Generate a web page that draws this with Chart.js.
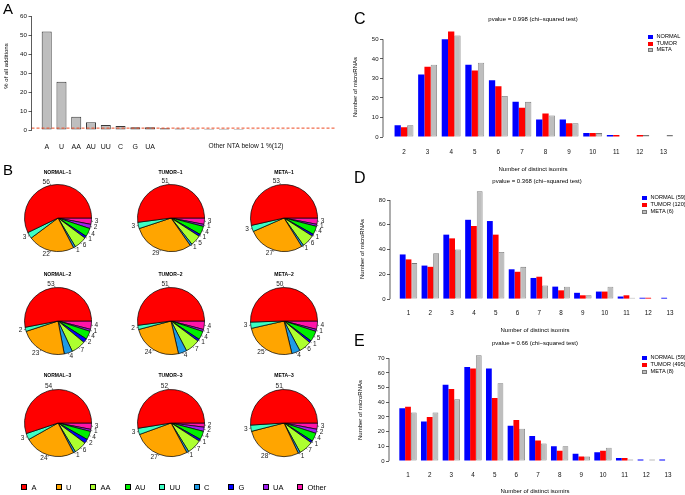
<!DOCTYPE html>
<html><head><meta charset="utf-8">
<script src="https://cdn.jsdelivr.net/npm/chart.js@4.4.1/dist/chart.umd.min.js"></script>
<style>
html,body{margin:0;padding:0;background:#fff;}
#wrap{position:relative;width:685px;height:495px;overflow:hidden;font-family:'Liberation Sans',Arial,Helvetica,sans-serif;color:#000;background:#fff;}
canvas{position:absolute;}
.t{position:absolute;white-space:nowrap;line-height:1;}
.box{position:absolute;border:0.8px solid #000;box-sizing:border-box;}
</style></head><body><div id="wrap"></div>
<script>
// ================= DATA =================
// Panel A
const ntaLabels = ['A','U','AA','AU','UU','C','G','UA'];
const ntaValues = [52.2, 25.6, 7.0, 4.1, 2.6, 2.1, 1.4, 1.5];
const otherLabel = 'Other NTA below 1 %(12)';
const otherValues = [0.9, 0.8, 0.7, 0.65, 0.6, 0.5, 0.45, 0.4, 0.35, 0.3, 0.3, 0.25];
const aTicks = [0, 10, 20, 30, 40, 50, 60];
const cutoff = 1;

// Panel B (pie values, order: A, U, AA, AU, UU, C, G, UA, Other)
const pieCats = ['A','U','AA','AU','UU','C','G','UA','Other'];
const pieColors = ['#FF0000','#FFA500','#ADFF2F','#00F000','#3CFFC4','#1E9BE6','#0000FF','#A020F0','#FF14AA'];
const pieTitles = ['NORMAL~1','TUMOR~1','META~1','NORMAL~2','TUMOR~2','META~2','NORMAL~3','TUMOR~3','META~3'];
const pieNormal1 = [56, 22, 6, 4, 3, 1, 1, 2, 3];
const pieTumor1  = [51, 29, 5, 4, 3, 1, 1, 1, 3];
const pieMeta1   = [53, 27, 6, 4, 3, 1, 1, 1, 3];
const pieNormal2 = [53, 23, 7, 4, 2, 4, 2, 1, 4];
const pieTumor2  = [51, 24, 7, 4, 2, 4, 1, 1, 4];
const pieMeta2   = [50, 25, 6, 5, 3, 4, 1, 1, 4];
const pieNormal3 = [54, 24, 6, 4, 3, 1, 2, 1, 3];
const pieTumor3  = [52, 27, 7, 4, 3, 1, 1, 2, 2];
const pieMeta3   = [51, 28, 7, 4, 3, 1, 1, 2, 3];
// drawing order of slices (R: counter-clockwise from 3 o'clock)
const pieOrder = ['A','UU','U','C','AA','G','AU','UA','Other'];

// Panel C
const isoC = [2,3,4,5,6,7,8,9,10,11,12,13];
const cNormal = [6, 32, 50, 37, 29, 18, 9, 9, 2, 1, 0, 0];
const cTumor  = [5, 36, 54, 34, 26, 15, 12, 7, 2, 1, 1, 0];
const cMeta   = [6, 37, 52, 38, 21, 18, 11, 7, 2, 0, 1, 1];
const cTicks = [0, 10, 20, 30, 40, 50];
const cLegend = ['NORMAL','TUMOR','META'];
const cTitle = 'pvalue = 0.998 (chi\u2212squared test)';

// Panel D
const isoD = [1,2,3,4,5,6,7,8,9,10,11,12,13];
const dNormal = [36, 27, 52, 64, 63, 24, 17, 10, 5, 6, 2, 1, 1];
const dTumor  = [32, 26, 49, 59, 52, 22, 18, 7, 3, 6, 3, 1, 0];
const dMeta   = [29, 37, 40, 87, 38, 26, 11, 10, 3, 10, 1, 0, 0];
const dTicks = [0, 20, 40, 60, 80];
const dLegend = ['NORMAL (59)','TUMOR (120)','META (6)'];
const dTitle = 'pvalue = 0.368 (chi\u2212squared test)';

// Panel E
const isoE = [1,2,3,4,5,6,7,8,9,10,11,12,13];
const eNormal = [36, 27, 52, 64, 63, 24, 17, 10, 5, 6, 2, 1, 1];
const eTumor  = [37, 30, 49, 63, 43, 28, 14, 7, 3, 7, 2, 0, 0];
const eMeta   = [33, 33, 42, 72, 53, 22, 12, 10, 3, 9, 1, 1, 0];
const eTicks = [0, 10, 20, 30, 40, 50, 60, 70];
const eLegend = ['NORMAL (59)','TUMOR (495)','META (8)'];
const eTitle = 'pvalue = 0.66 (chi\u2212squared test)';

const xTitle = 'Number of distinct isomirs';
const yTitle = 'Number of microRNAs';
const groupColors = ['#0000FF','#FF0000','#BEBEBE'];

// ================= HELPERS =================
const wrap = document.getElementById('wrap');
const FONT = "'Liberation Sans', Arial, Helvetica, sans-serif";

function txt(s, x, y, o = {}) {
  const d = document.createElement('div');
  d.className = 't';
  d.textContent = s;
  d.style.fontSize = (o.size || 6) + 'px';
  if (o.bold) d.style.fontWeight = 'bold';
  if (o.color) d.style.color = o.color;
  d.style.left = x + 'px';
  d.style.top = y + 'px';
  const ax = o.align === 'left' ? '0' : o.align === 'right' ? '-100%' : '-50%';
  d.style.transform = 'translate(' + ax + ',-50%)' + (o.rot ? ' rotate(' + o.rot + 'deg)' : '');
  wrap.appendChild(d);
}
function box(x, y, w, h, color) {
  const b = document.createElement('div');
  b.className = 'box';
  b.style.left = x + 'px'; b.style.top = y + 'px';
  b.style.width = w + 'px'; b.style.height = h + 'px';
  b.style.background = color;
  wrap.appendChild(b);
}
function makeCanvas(left, top, w, h) {
  const c = document.createElement('canvas');
  c.width = w; c.height = h;
  c.style.left = left + 'px'; c.style.top = top + 'px';
  c.style.width = w + 'px'; c.style.height = h + 'px';
  wrap.appendChild(c);
  return c;
}

// R-style y axis line from first to last tick
const rAxis = {
  id: 'rAxis',
  afterDraw(chart) {
    const s = chart.scales.y;
    const t = s.ticks;
    const ctx = chart.ctx;
    ctx.save();
    ctx.strokeStyle = '#333';
    ctx.lineWidth = 0.8;
    ctx.beginPath();
    ctx.moveTo(s.right, s.getPixelForValue(t[0].value));
    ctx.lineTo(s.right, s.getPixelForValue(t[t.length - 1].value));
    ctx.stroke();
    ctx.restore();
  }
};

function barChart(cfg) {
  const c = makeCanvas(cfg.left, cfg.top, cfg.w, cfg.h);
  return new Chart(c, {
    type: 'bar',
    data: { datasets: cfg.datasets },
    options: {
      responsive: false, animation: false, devicePixelRatio: 1, events: [],
      layout: { padding: cfg.pad },
      plugins: { legend: { display: false }, tooltip: { enabled: false }, title: { display: false } },
      datasets: { bar: { categoryPercentage: cfg.catPct, barPercentage: cfg.barPct, grouped: true } },
      scales: {
        x: {
          type: 'linear', offset: false, min: cfg.xmin, max: cfg.xmax,
          grid: { display: false, drawTicks: false }, border: { display: false },
          afterBuildTicks: s => { s.ticks = cfg.xTicks.map(v => ({ value: v })); },
          afterFit: s => { s.height = cfg.xH; },
          ticks: { autoSkip: false, maxRotation: 0, padding: cfg.xPad, color: '#111',
                   font: { family: FONT, size: cfg.xFont }, callback: cfg.xLabel }
        },
        y: {
          min: 0, max: cfg.ymax,
          afterBuildTicks: s => { s.ticks = cfg.yTicks.map(v => ({ value: v })); },
          afterFit: s => { s.width = cfg.yW; },
          grid: { drawOnChartArea: false, drawTicks: true, tickLength: 3, color: '#333', lineWidth: 0.8 },
          border: { display: false },
          ticks: { padding: 1.5, color: '#111', font: { family: FONT, size: cfg.yFont } }
        }
      }
    },
    plugins: [rAxis].concat(cfg.plugins || [])
  });
}

// ================= PANEL A =================
const aAll = ntaValues.concat(otherValues);
const aXTicks = aAll.map((_, i) => i + 1);
const cutoffLine = {
  id: 'cutoffLine',
  afterDatasetsDraw(chart) {
    const ctx = chart.ctx, y = chart.scales.y.getPixelForValue(cutoff), a = chart.chartArea;
    ctx.save();
    ctx.strokeStyle = '#EE4A22';
    ctx.lineWidth = 1;
    ctx.setLineDash([3, 2]);
    ctx.beginPath(); ctx.moveTo(a.left, y); ctx.lineTo(a.right, y); ctx.stroke();
    ctx.restore();
  },
  afterDraw(chart) {
    const ctx = chart.ctx, xs = chart.scales.x;
    const mid = (ntaValues.length + 1 + aAll.length) / 2;
    ctx.save();
    ctx.font = '6.6px ' + FONT;
    ctx.fillStyle = '#111';
    ctx.textAlign = 'center';
    ctx.textBaseline = 'middle';
    ctx.fillText(otherLabel, xs.getPixelForValue(mid), 146);
    ctx.restore();
  }
};
barChart({
  left: 0, top: 0, w: 340, h: 155,
  pad: { left: 0, top: 16.7, right: 4.6, bottom: 0 },
  yW: 31.5, xH: 25, xmin: -0.03, xmax: 20.55, ymax: 60,
  xTicks: aXTicks, yTicks: aTicks, xPad: 12.5, xFont: 7, yFont: 6.2,
  catPct: 1, barPct: 0.68,
  xLabel: v => (v <= ntaLabels.length ? ntaLabels[v - 1] : ''),
  datasets: [{
    data: aAll.map((v, i) => ({ x: i + 1, y: v })),
    backgroundColor: aAll.map((v, i) => (i < ntaValues.length ? '#BEBEBE' : '#1a1a1a')),
    borderColor: '#3a3a3a', borderWidth: 1, borderSkipped: false
  }],
  plugins: [cutoffLine]
});
txt('A', 3, 8, { size: 15, align: 'left' });
txt('% of all additions', 6, 66, { size: 6, rot: -90 });

// ================= PANEL B =================
const pieData = [pieNormal1, pieTumor1, pieMeta1, pieNormal2, pieTumor2, pieMeta2, pieNormal3, pieTumor3, pieMeta3];
const pieCX = [57.5, 170.5, 284];
const pieCY = [218, 320.5, 423];
const pieTitleY = [172, 274, 375];
const pieR = 33.5;
// clockwise from 3 o'clock in reverse order == R counter-clockwise order
const drawIdx = pieOrder.slice().reverse().map(n => pieCats.indexOf(n));

const pieLabels = {
  id: 'pieLabels',
  afterDatasetsDraw(chart) {
    const meta = chart.getDatasetMeta(0);
    const ds = chart.data.datasets[0];
    const ctx = chart.ctx;
    ctx.save();
    ctx.font = '6.5px ' + FONT;
    ctx.fillStyle = '#222';
    ctx.strokeStyle = '#333';
    ctx.lineWidth = 0.6;
    ctx.textBaseline = 'middle';
    meta.data.forEach((arc, i) => {
      const p = arc.getProps(['x', 'y', 'startAngle', 'endAngle', 'outerRadius'], true);
      const a = (p.startAngle + p.endAngle) / 2;
      const r = p.outerRadius;
      const cx = Math.cos(a), cy = Math.sin(a);
      ctx.beginPath();
      ctx.moveTo(p.x + cx * r, p.y + cy * r);
      ctx.lineTo(p.x + cx * r * 1.05, p.y + cy * r * 1.05);
      ctx.stroke();
      ctx.textAlign = cx < 0 ? 'right' : 'left';
      ctx.fillText(String(ds.data[i]), p.x + cx * r * 1.1, p.y + cy * r * 1.1);
    });
    ctx.restore();
  }
};

pieData.forEach((vals, k) => {
  const col = k % 3, row = Math.floor(k / 3);
  const W = 120, H = 96;
  const c = makeCanvas(pieCX[col] - W / 2, pieCY[row] - H / 2, W, H);
  new Chart(c, {
    type: 'pie',
    data: {
      labels: drawIdx.map(i => pieCats[i]),
      datasets: [{
        data: drawIdx.map(i => vals[i]),
        backgroundColor: drawIdx.map(i => pieColors[i]),
        borderColor: '#000', borderWidth: 0.7, hoverOffset: 0, offset: 0
      }]
    },
    options: {
      responsive: false, animation: false, devicePixelRatio: 1, events: [],
      rotation: 90, radius: pieR,
      layout: { padding: 0 },
      plugins: { legend: { display: false }, tooltip: { enabled: false } }
    },
    plugins: [pieLabels]
  });
  txt(pieTitles[k], pieCX[col], pieTitleY[row], { size: 5, bold: true });
});
txt('B', 3, 169, { size: 15, align: 'left' });
// legend for B
pieCats.forEach((n, i) => {
  const bx = 21 + i * 34.5;
  box(bx, 484, 6, 6, pieColors[i]);
  txt(n, bx + 10.5, 487.5, { size: 7.5, align: 'left' });
});

// ================= PANELS C, D, E =================
function groupDatasets(cats, series) {
  return series.map((vals, j) => ({
    data: vals.map((v, i) => ({ x: cats[i], y: v })),
    backgroundColor: groupColors[j],
    borderColor: j === 2 ? '#7a7a7a' : groupColors[j],
    borderWidth: j === 2 ? 0.8 : 0,
    borderSkipped: false
  }));
}
function groupLegend(labels, bx, ys) {
  labels.forEach((l, j) => {
    const b = document.createElement('div');
    b.style.position = 'absolute';
    b.style.left = bx + 'px'; b.style.top = (ys[j] - 2) + 'px';
    b.style.width = '5px'; b.style.height = '4px';
    b.style.background = groupColors[j];
    if (j === 2) { b.style.border = '0.7px solid #777'; b.style.boxSizing = 'border-box'; }
    wrap.appendChild(b);
    txt(l, bx + 8.5, ys[j], { size: 5.6, align: 'left' });
  });
}

// C
barChart({
  left: 340, top: 0, w: 345, h: 165,
  pad: { left: 13, top: 27.6, right: 10, bottom: 0 },
  yW: 30, xH: 28, xmin: 1.11, xmax: 13.49, ymax: 56,
  xTicks: isoC, yTicks: cTicks, xPad: 11.5, xFont: 6.3, yFont: 6,
  catPct: 0.8, barPct: 1,
  xLabel: v => String(v),
  datasets: groupDatasets(isoC, [cNormal, cTumor, cMeta])
});
txt('C', 354, 19, { size: 16, align: 'left' });
txt(cTitle, 533, 19, { size: 6 });
txt(yTitle, 355, 87, { size: 6, rot: -90 });
txt(xTitle, 533, 169, { size: 6 });
groupLegend(cLegend, 648, [37, 43.5, 50]);

// D
barChart({
  left: 340, top: 165, w: 345, h: 165,
  pad: { left: 20, top: 25.1, right: 4.1, bottom: 0 },
  yW: 30, xH: 31, xmin: 0.151, xmax: 13.5, ymax: 88,
  xTicks: isoD, yTicks: dTicks, xPad: 10, xFont: 6.3, yFont: 6,
  catPct: 0.8, barPct: 1,
  xLabel: v => String(v),
  datasets: groupDatasets(isoD, [dNormal, dTumor, dMeta])
});
txt('D', 354, 178, { size: 16, align: 'left' });
txt(dTitle, 537, 181, { size: 6 });
txt(yTitle, 362, 249, { size: 6, rot: -90 });
txt(xTitle, 535, 330, { size: 6 });
groupLegend(dLegend, 642, [198, 205, 212]);

// E
barChart({
  left: 340, top: 330, w: 345, h: 165,
  pad: { left: 19, top: 22.4, right: 6.2, bottom: 0 },
  yW: 30, xH: 34, xmin: 0.123, xmax: 13.5, ymax: 74,
  xTicks: isoE, yTicks: eTicks, xPad: 10.5, xFont: 6.3, yFont: 6,
  catPct: 0.8, barPct: 1,
  xLabel: v => String(v),
  datasets: groupDatasets(isoE, [eNormal, eTumor, eMeta])
});
txt('E', 354, 341, { size: 16, align: 'left' });
txt(eTitle, 535, 343, { size: 6 });
txt(yTitle, 360, 410, { size: 6, rot: -90 });
txt(xTitle, 535, 491, { size: 6 });
groupLegend(eLegend, 642, [358, 365, 372]);
</script></body></html>
